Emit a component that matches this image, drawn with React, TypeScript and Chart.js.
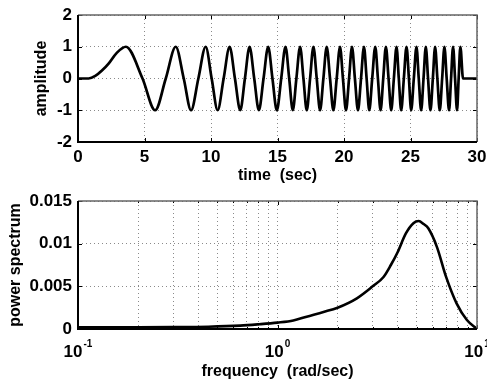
import React, { useEffect, useRef } from 'react';
import { Chart, registerables } from 'chart.js';

Chart.register(...registerables);

// ---------- Top panel: chirp signal ----------
const onsetTimes = [0, 0.8, 1.3, 1.8, 2.3, 2.9];
const onsetAmps = [0, 0, 0.08, 0.25, 0.47, 0.8];
const peakLevel = 1;
const troughLevel = -1;
const peakTimes = [3.6, 7.35, 9.6, 11.4, 12.9, 14.3, 15.6, 16.7, 17.7, 18.7, 19.7, 20.6, 21.5, 22.35, 23.15, 23.95, 24.7, 25.45, 26.15, 26.85, 27.55, 28.2, 28.75];
const troughTimes = [5.8, 8.5, 10.5, 12.2, 13.6, 14.95, 16.15, 17.2, 18.2, 19.2, 20.15, 21.05, 21.9, 22.75, 23.55, 24.3, 25.05, 25.8, 26.5, 27.2, 27.9, 28.5];
const zeroTimes = [4.85, 6.6, 7.95, 9.05, 10.05, 10.95, 11.8, 12.55, 13.25, 13.95, 14.62, 15.28, 15.88, 16.42, 16.95, 17.45, 17.95, 18.45, 18.95, 19.45, 19.92, 20.38, 20.82, 21.28, 21.7, 22.12, 22.55, 22.95, 23.35, 23.75, 24.12, 24.5, 24.88, 25.25, 25.62, 25.98, 26.32, 26.68, 27.02, 27.38, 27.72, 28.05, 28.35, 28.62];
const tailTimes = [28.95, 30];
const tailAmps = [0, 0];

const timeTicks = [0, 5, 10, 15, 20, 25, 30];
const timeTickLabels = ['0', '5', '10', '15', '20', '25', '30'];
const ampTicks = [-2, -1, 0, 1, 2];
const ampTickLabels = ['-2', '-1', '0', '1', '2'];

// ---------- Bottom panel: power spectrum ----------
const freqValues = [0.1, 0.15, 0.2, 0.3, 0.45, 0.65, 0.8, 1.0, 1.2, 1.4, 1.7, 2.0, 2.5, 3.0, 3.4, 3.7, 4.0, 4.4, 4.8, 5.1, 5.4, 5.7, 6.3, 7.0, 7.9, 8.9, 10];
const powerValues = [0.0002, 0.0002, 0.0002, 0.00022, 0.00027, 0.0004, 0.00055, 0.00075, 0.001, 0.00145, 0.002, 0.0025, 0.0036, 0.005, 0.0061, 0.0075, 0.009, 0.0112, 0.0124, 0.01265, 0.0123, 0.0118, 0.0096, 0.0061, 0.003, 0.00105, 0];

const freqGridValues = [0.1, 0.2, 0.3, 0.4, 0.5, 0.6, 0.7, 0.8, 0.9, 1, 2, 3, 4, 5, 6, 7, 8, 9, 10];
const freqLabelValues = [0.1, 1, 10];
const freqLabelExps = ['-1', '0', '1'];
const powerTicks = [0, 0.005, 0.01, 0.015];
const powerTickLabels = ['0', '0.005', '0.01', '0.015'];

const FONT = "'Liberation Sans', Arial, Helvetica, sans-serif";
const GRID = '#8a8a8a';

const makeFrame = (xMajor: number[], yMajor: number[], xMinor: number[] = []) => ({
  id: 'frame',
  afterDraw(chart: any) {
    const { ctx, chartArea, scales } = chart;
    const { left, right, top, bottom } = chartArea;
    ctx.save();
    ctx.strokeStyle = '#000';
    ctx.lineWidth = 1;
    ctx.beginPath();
    xMajor.forEach((v) => {
      const p = Math.round(scales.x.getPixelForValue(v)) + 0.5;
      ctx.moveTo(p, bottom); ctx.lineTo(p, bottom - 4);
      ctx.moveTo(p, top); ctx.lineTo(p, top + 4);
    });
    xMinor.forEach((v) => {
      const p = Math.round(scales.x.getPixelForValue(v)) + 0.5;
      ctx.moveTo(p, bottom); ctx.lineTo(p, bottom - 2);
      ctx.moveTo(p, top); ctx.lineTo(p, top + 2);
    });
    yMajor.forEach((v) => {
      const p = Math.round(scales.y.getPixelForValue(v)) + 0.5;
      ctx.moveTo(left, p); ctx.lineTo(left + 4, p);
      ctx.moveTo(right, p); ctx.lineTo(right - 4, p);
    });
    ctx.stroke();
    ctx.strokeStyle = '#666';
    ctx.lineWidth = 1.5;
    ctx.beginPath();
    ctx.moveTo(left, top); ctx.lineTo(right, top); ctx.lineTo(right, bottom);
    ctx.stroke();
    ctx.strokeStyle = '#000';
    ctx.lineWidth = 2;
    ctx.beginPath();
    ctx.moveTo(left, top); ctx.lineTo(left, bottom); ctx.lineTo(right, bottom);
    ctx.stroke();
    ctx.restore();
  },
});

const logLabelsPlugin = {
  id: 'logLabels',
  afterDraw(chart: any) {
    const { ctx, chartArea, scales } = chart;
    const y = chartArea.bottom + 28;
    ctx.save();
    ctx.fillStyle = '#000';
    ctx.textAlign = 'left';
    ctx.textBaseline = 'alphabetic';
    freqLabelValues.forEach((v, i) => {
      const big = `bold 17px ${FONT}`;
      const small = `bold 10px ${FONT}`;
      ctx.font = big;
      const wb = ctx.measureText('10').width;
      ctx.font = small;
      const we = ctx.measureText(freqLabelExps[i]).width;
      const x0 = scales.x.getPixelForValue(v) - (wb + we + 1) / 2;
      ctx.font = big;
      ctx.fillText('10', x0, y);
      ctx.font = small;
      ctx.fillText(freqLabelExps[i], x0 + wb + 1, y - 10);
    });
    ctx.restore();
  },
};

const tickFont = { family: FONT, size: 17, weight: 'bold' as const };
const titleFont = { family: FONT, size: 16, weight: 'bold' as const, lineHeight: 1 };

export default function App() {
  const topRef = useRef<HTMLCanvasElement>(null);
  const botRef = useRef<HTMLCanvasElement>(null);

  useEffect(() => {
    const signal = [
      ...onsetTimes.map((t, i) => ({ x: t, y: onsetAmps[i] })),
      ...peakTimes.map((t) => ({ x: t, y: peakLevel })),
      ...troughTimes.map((t) => ({ x: t, y: troughLevel })),
      ...zeroTimes.map((t) => ({ x: t, y: 0 })),
      ...tailTimes.map((t, i) => ({ x: t, y: tailAmps[i] })),
    ].sort((a, b) => a.x - b.x);

    const top = new Chart(topRef.current as HTMLCanvasElement, {
      type: 'line',
      data: {
        datasets: [{
          data: signal,
          borderColor: '#000',
          borderWidth: 2.7,
          pointRadius: 0,
          fill: false,
          cubicInterpolationMode: 'monotone',
        }],
      },
      options: {
        animation: false,
        responsive: false,
        devicePixelRatio: 1,
        events: [],
        layout: { padding: { left: 0, top: 15, right: 10, bottom: 0 } },
        plugins: { legend: { display: false }, tooltip: { enabled: false } },
        scales: {
          x: {
            type: 'linear',
            min: 0,
            max: 30,
            afterBuildTicks: (s: any) => { s.ticks = timeTicks.map((v) => ({ value: v })); },
            afterFit: (s: any) => { s.height = 48; s.paddingLeft = 0; s.paddingRight = 0; },
            ticks: {
              autoSkip: false, maxRotation: 0, padding: 5, color: '#000', font: tickFont,
              callback: (v: any) => timeTickLabels[timeTicks.indexOf(Number(v))] ?? '',
            },
            grid: { color: GRID, lineWidth: 1, drawTicks: false },
            border: { display: false, dash: [1, 3] },
            title: { display: true, text: 'time  (sec)', color: '#000', font: titleFont, padding: { top: 0, bottom: 6 } },
          },
          y: {
            type: 'linear',
            min: -2,
            max: 2,
            afterBuildTicks: (s: any) => { s.ticks = ampTicks.map((v) => ({ value: v })); },
            afterFit: (s: any) => { s.width = 78; s.paddingTop = 0; s.paddingBottom = 0; },
            ticks: {
              padding: 6, color: '#000', font: tickFont,
              callback: (v: any) => ampTickLabels[ampTicks.indexOf(Number(v))] ?? '',
            },
            grid: { color: GRID, lineWidth: 1, drawTicks: false },
            border: { display: false, dash: [1, 3] },
            title: { display: true, text: 'amplitude', color: '#000', font: titleFont, padding: { top: 34, bottom: 0 } },
          },
        },
      },
      plugins: [makeFrame(timeTicks, ampTicks)],
    } as any);

    const bot = new Chart(botRef.current as HTMLCanvasElement, {
      type: 'line',
      data: {
        datasets: [{
          data: freqValues.map((f, i) => ({ x: f, y: powerValues[i] })),
          borderColor: '#000',
          borderWidth: 2.6,
          pointRadius: 0,
          fill: false,
          cubicInterpolationMode: 'monotone',
        }],
      },
      options: {
        animation: false,
        responsive: false,
        devicePixelRatio: 1,
        events: [],
        layout: { padding: { left: 0, top: 11, right: 10, bottom: 0 } },
        plugins: { legend: { display: false }, tooltip: { enabled: false } },
        scales: {
          x: {
            type: 'logarithmic',
            min: 0.1,
            max: 10,
            afterBuildTicks: (s: any) => { s.ticks = freqGridValues.map((v) => ({ value: v })); },
            afterFit: (s: any) => { s.height = 51; s.paddingLeft = 0; s.paddingRight = 0; },
            ticks: { display: false, autoSkip: false },
            grid: { color: GRID, lineWidth: 1, drawTicks: false },
            border: { display: false, dash: [1, 3] },
            title: { display: true, text: 'frequency  (rad/sec)', color: '#000', font: titleFont, padding: { top: 0, bottom: 0 } },
          },
          y: {
            type: 'linear',
            min: 0,
            max: 0.015,
            afterBuildTicks: (s: any) => { s.ticks = powerTicks.map((v) => ({ value: v })); },
            afterFit: (s: any) => { s.width = 78; s.paddingTop = 0; s.paddingBottom = 0; },
            ticks: {
              padding: 6, color: '#000', font: tickFont,
              callback: (v: any) => {
                const i = powerTicks.findIndex((p) => Math.abs(p - Number(v)) < 1e-9);
                return i >= 0 ? powerTickLabels[i] : '';
              },
            },
            grid: { color: GRID, lineWidth: 1, drawTicks: false },
            border: { display: false, dash: [1, 3] },
            title: { display: true, text: 'power spectrum', color: '#000', font: titleFont, padding: { top: 7.5, bottom: 0 } },
          },
        },
      },
      plugins: [makeFrame(freqLabelValues, powerTicks, freqGridValues), logLabelsPlugin],
    } as any);

    return () => { top.destroy(); bot.destroy(); };
  }, []);

  return (
    <div style={{ position: 'fixed', left: 0, top: 0, width: 487, height: 380, background: '#fff' }}>
      <canvas ref={topRef} width={487} height={190} style={{ display: 'block', width: 487, height: 190 }} />
      <canvas ref={botRef} width={487} height={190} style={{ display: 'block', width: 487, height: 190 }} />
    </div>
  );
}
